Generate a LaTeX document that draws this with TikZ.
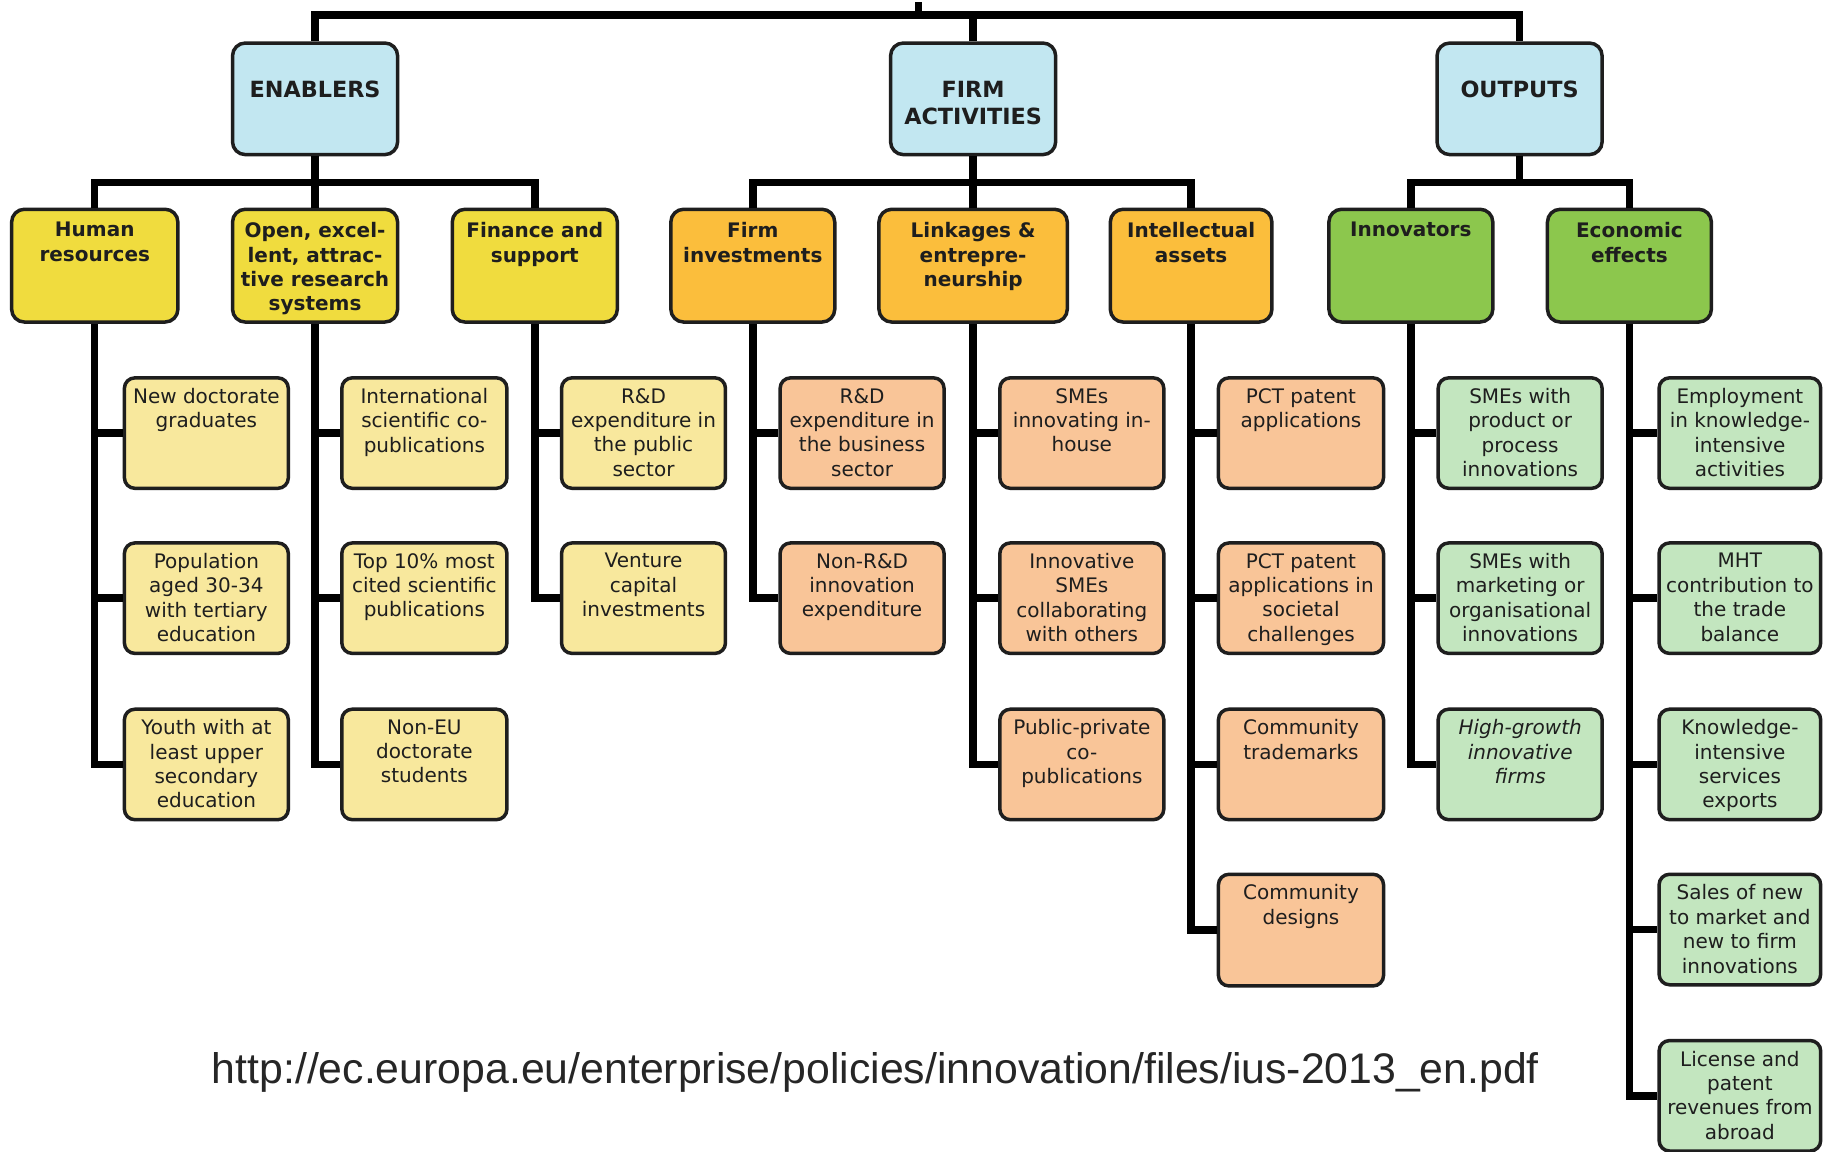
\documentclass[tikz,border=0pt]{standalone}
\usepackage{fontspec}
\setmainfont{DejaVu Sans}[BoldFont={DejaVu Sans Bold},ItalicFont={DejaVu Sans Oblique},BoldItalicFont={DejaVu Sans Bold Oblique}]
\newfontfamily\urlfont{Liberation Sans}

\definecolor{headblue}{HTML}{C2E7F1}
\definecolor{catY}{HTML}{F0DC3E}
\definecolor{indY}{HTML}{F8E89D}
\definecolor{catO}{HTML}{FBBE3C}
\definecolor{indO}{HTML}{F9C598}
\definecolor{catG}{HTML}{8CC74D}
\definecolor{indG}{HTML}{C3E6BF}
\definecolor{ink}{HTML}{1E1E1E}

% box with its text hung from the top edge:
% #1 name, #2 box style, #3 text style, #4-#7 corners (x1,y1,x2,y2), #8 text
\newcommand\bx[8]{%
  \pgfmathsetmacro\bxw{(#6-#4)*0.5}%
  \pgfmathsetmacro\bxh{(#7-#5)*0.5}%
  \node[#2, minimum width=\bxw pt, minimum height=\bxh pt] (#1) at ({(#4+#6)/2},{(#5+#7)/2}) {};
  \node[#3] (#1-t) at (#1.north) {#8};
}

\begin{document}
\begin{tikzpicture}[x=0.5pt,y=-0.5pt,
  frame/.style={draw=ink, line width=1.5pt, inner sep=0pt},
  headbox/.style={frame, rounded corners=5.5pt, fill=headblue},
  catYbox/.style={frame, rounded corners=5.5pt, fill=catY},
  catObox/.style={frame, rounded corners=5.5pt, fill=catO},
  catGbox/.style={frame, rounded corners=5.5pt, fill=catG},
  indYbox/.style={frame, rounded corners=4.5pt, fill=indY},
  indObox/.style={frame, rounded corners=4.5pt, fill=indO},
  indGbox/.style={frame, rounded corners=4.5pt, fill=indG},
  headtxt/.style={font=\fontsize{9.6}{11.5}\selectfont\bfseries, align=center, inner sep=0pt, anchor=north, yshift=-17pt, text=ink},
  cattxt/.style={font=\fontsize{8.6}{10.5}\selectfont\bfseries, align=center, inner sep=0pt, anchor=north, yshift=-6.2pt, text=ink},
  indtxt/.style={font=\fontsize{8.6}{10.5}\selectfont, align=center, inner sep=0pt, anchor=north, yshift=-5pt, text=ink},
  link/.style={draw=black, line width=3.2pt, line join=miter}]

\useasboundingbox (0,0) rectangle (1568,990);
\fill[white] (0,0) rectangle (1568,990);

% ---------- top level ----------
\bx{en}{headbox}{headtxt}{200}{37}{342}{133}{ENABLERS}
\bx{fa}{headbox}{headtxt}{766}{37}{908}{133}{FIRM\\ACTIVITIES}
\bx{out}{headbox}{headtxt}{1236}{37}{1378}{133}{OUTPUTS}

% ---------- dimensions ----------
\bx{hr}{catYbox}{cattxt}{10}{180}{153}{277}{Human\\resources}
\bx{oe}{catYbox}{cattxt}{200}{180}{342}{277}{Open, excel-\\lent, attrac-\\tive research\\systems}
\bx{fs}{catYbox}{cattxt}{389}{180}{531}{277}{Finance and\\support}
\bx{fi}{catObox}{cattxt}{577}{180}{718}{277}{Firm\\investments}
\bx{li}{catObox}{cattxt}{756}{180}{918}{277}{Linkages \&\\entrepre-\\neurship}
\bx{ia}{catObox}{cattxt}{955}{180}{1094}{277}{Intellectual\\assets}
\bx{inn}{catGbox}{cattxt}{1143}{180}{1284}{277}{Innovators}
\bx{eco}{catGbox}{cattxt}{1331}{180}{1472}{277}{Economic\\effects}

% ---------- indicators ----------
\bx{hr1}{indYbox}{indtxt}{107}{325}{248}{420}{New doctorate\\graduates}
\bx{hr2}{indYbox}{indtxt}{107}{467}{248}{562}{Population\\aged 30-34\\with tertiary\\education}
\bx{hr3}{indYbox}{indtxt}{107}{610}{248}{705}{Youth with at\\least upper\\secondary\\education}

\bx{oe1}{indYbox}{indtxt}{294}{325}{436}{420}{International\\scientific co-\\publications}
\bx{oe2}{indYbox}{indtxt}{294}{467}{436}{562}{Top 10\% most\\cited scientific\\publications}
\bx{oe3}{indYbox}{indtxt}{294}{610}{436}{705}{Non-EU\\doctorate\\students}

\bx{fs1}{indYbox}{indtxt}{483}{325}{624}{420}{R\&D\\expenditure in\\the public\\sector}
\bx{fs2}{indYbox}{indtxt}{483}{467}{624}{562}{Venture\\capital\\investments}

\bx{fi1}{indObox}{indtxt}{671}{325}{812}{420}{R\&D\\expenditure in\\the business\\sector}
\bx{fi2}{indObox}{indtxt}{671}{467}{812}{562}{Non-R\&D\\innovation\\expenditure}

\bx{li1}{indObox}{indtxt}{860}{325}{1001}{420}{SMEs\\innovating in-\\house}
\bx{li2}{indObox}{indtxt}{860}{467}{1001}{562}{Innovative\\SMEs\\collaborating\\with others}
\bx{li3}{indObox}{indtxt}{860}{610}{1001}{705}{Public-private\\co-\\publications}

\bx{ia1}{indObox}{indtxt}{1048}{325}{1190}{420}{PCT patent\\applications}
\bx{ia2}{indObox}{indtxt}{1048}{467}{1190}{562}{PCT patent\\applications in\\societal\\challenges}
\bx{ia3}{indObox}{indtxt}{1048}{610}{1190}{705}{Community\\trademarks}
\bx{ia4}{indObox}{indtxt}{1048}{752}{1190}{848}{Community\\designs}

\bx{in1}{indGbox}{indtxt}{1237}{325}{1378}{420}{SMEs with\\product or\\process\\innovations}
\bx{in2}{indGbox}{indtxt}{1237}{467}{1378}{562}{SMEs with\\marketing or\\organisational\\innovations}
\bx{in3}{indGbox}{indtxt}{1237}{610}{1378}{705}{\textit{High-growth}\\\textit{innovative}\\\textit{firms}}

\bx{ec1}{indGbox}{indtxt}{1427}{325}{1566}{420}{Employment\\in knowledge-\\intensive\\activities}
\bx{ec2}{indGbox}{indtxt}{1427}{467}{1566}{562}{MHT\\contribution to\\the trade\\balance}
\bx{ec3}{indGbox}{indtxt}{1427}{610}{1566}{705}{Knowledge-\\intensive\\services\\exports}
\bx{ec4}{indGbox}{indtxt}{1427}{752}{1566}{847}{Sales of new\\to market and\\new to firm\\innovations}
\bx{ec5}{indGbox}{indtxt}{1427}{895}{1566}{990}{License and\\patent\\revenues from\\abroad}

% ---------- connectors ----------
\coordinate (root) at (790,2);
\coordinate (topbus) at (790,13);
\coordinate (bus) at (0,157);

\draw[link] (en.north) |- (topbus) -| (out.north);
\draw[link] (root) -- (topbus);
\draw[link] (fa.north) -- (fa.north |- topbus);

\draw[link] (hr.north) |- (fs.north |- bus) -- (fs.north);
\draw[link] (en.south) -- (oe.north);
\draw[link] (fi.north) |- (ia.north |- bus) -- (ia.north);
\draw[link] (fa.south) -- (li.north);
\draw[link] (inn.north) |- (eco.north |- bus) -- (eco.north);
\draw[link] (out.south) -- (out.south |- bus);

\draw[link] (hr.south) |- (hr3.west);
\draw[link] (hr.south |- hr1.west) -- (hr1.west);
\draw[link] (hr.south |- hr2.west) -- (hr2.west);

\draw[link] (oe.south) |- (oe3.west);
\draw[link] (oe.south |- oe1.west) -- (oe1.west);
\draw[link] (oe.south |- oe2.west) -- (oe2.west);

\draw[link] (fs.south) |- (fs2.west);
\draw[link] (fs.south |- fs1.west) -- (fs1.west);

\draw[link] (fi.south) |- (fi2.west);
\draw[link] (fi.south |- fi1.west) -- (fi1.west);

\draw[link] (li.south) |- (li3.west);
\draw[link] (li.south |- li1.west) -- (li1.west);
\draw[link] (li.south |- li2.west) -- (li2.west);

\draw[link] (ia.south) |- (ia4.west);
\draw[link] (ia.south |- ia1.west) -- (ia1.west);
\draw[link] (ia.south |- ia2.west) -- (ia2.west);
\draw[link] (ia.south |- ia3.west) -- (ia3.west);

\draw[link] (inn.south) |- (in3.west);
\draw[link] (inn.south |- in1.west) -- (in1.west);
\draw[link] (inn.south |- in2.west) -- (in2.west);

\draw[link] (eco.south) |- (ec5.west);
\draw[link] (eco.south |- ec1.west) -- (ec1.west);
\draw[link] (eco.south |- ec2.west) -- (ec2.west);
\draw[link] (eco.south |- ec3.west) -- (ec3.west);
\draw[link] (eco.south |- ec4.west) -- (ec4.west);

% ---------- source ----------
\node[font=\urlfont\fontsize{18.4}{20}\selectfont, text=black!85, inner sep=0pt] (src) at (753,922)
  {http://ec.europa.eu/enterprise/policies/innovation/files/ius-2013\_en.pdf};

\end{tikzpicture}
\end{document}
